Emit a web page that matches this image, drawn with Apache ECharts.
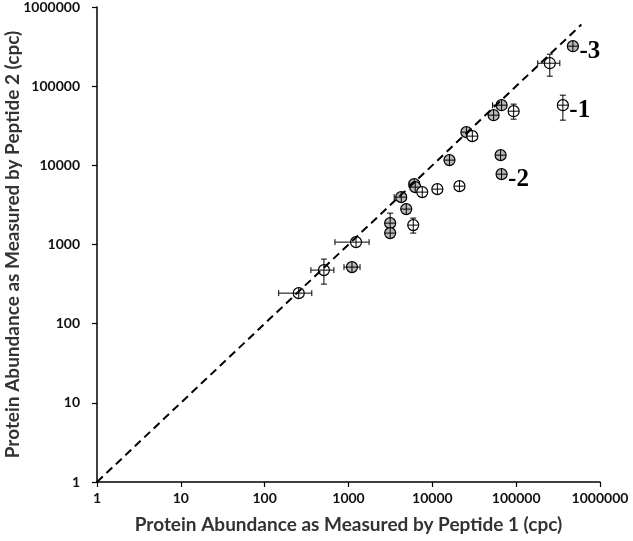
<!DOCTYPE html>
<html>
<head>
<meta charset="utf-8">
<script src="https://cdn.jsdelivr.net/npm/echarts@6/dist/echarts.min.js"></script>
<style>html,body{margin:0;padding:0;background:#fff}#c{width:633px;height:541px}</style>
</head>
<body>
<div id="c"></div>
<script>
// Protein abundance (cpc) measured by peptide 1 (x) and peptide 2 (y)
const peptide1 = [255, 509, 1100, 1230, 3140, 3140, 5920, 4884, 4253, 6085, 6257, 7580, 11480, 21050, 16000, 65200, 67000, 25500, 30000, 53800, 67000, 93300, 360600, 251800, 475000];
const peptide2 = [243, 475, 518, 1072, 1862, 1393, 1758, 2800, 3965, 5795, 5305, 4590, 5005, 5460, 11640, 13450, 7740, 26250, 23380, 43000, 57550, 48300, 57550, 195000, 320000];
const peptide1Low  = [147, 356, 883, 689, null, null, null, null, 3507, 5305, null, null, null, null, null, null, null, null, null, null, 52300, null, null, 180800, null];
const peptide1High = [365, 670, 1373, 1761, null, null, null, null, 4884, 6985, null, null, null, null, null, null, null, null, null, null, 70800, null, null, 331800, null];
const peptide2Low  = [null, 316, null, null, 1480, null, 1393, null, null, null, null, null, null, null, null, null, null, null, null, null, null, 38300, 37200, 133700, null];
const peptide2High = [null, 654, null, null, 2490, null, 2155, null, null, null, null, null, null, null, null, null, null, null, null, null, null, 59300, 76900, 253500, null];
const pointClass = ['open','open','shaded','open','shaded','shaded','open','shaded','shaded','shaded','shaded','open','open','open','shaded','shaded','shaded','shaded','open','shaded','shaded','open','open','open','shaded'];
const annotations = ['','','','','','','','','','','','','','','','','-2','','','','','','-1','','-3'];
const tickLabels = ['1','10','100','1000','10000','100000','1000000'];
const identityLine = [[1, 1], [600000, 600000]];

const chart = echarts.init(document.getElementById('c'), null, {renderer: 'canvas'});
const R = 5.5, CAP = 3;

function renderItem(params, api) {
  const i = params.dataIndex;
  const c = api.coord([peptide1[i], peptide2[i]]);
  const children = [];
  const ls = {stroke: '#000', lineWidth: 1};
  if (peptide1Low[i] != null) {
    const a = api.coord([peptide1Low[i], peptide2[i]]);
    const b = api.coord([peptide1High[i], peptide2[i]]);
    children.push({type: 'line', shape: {x1: a[0], y1: c[1], x2: b[0], y2: c[1]}, style: ls});
    children.push({type: 'line', shape: {x1: a[0], y1: c[1]-CAP, x2: a[0], y2: c[1]+CAP}, style: ls});
    children.push({type: 'line', shape: {x1: b[0], y1: c[1]-CAP, x2: b[0], y2: c[1]+CAP}, style: ls});
  }
  if (peptide2Low[i] != null) {
    const a = api.coord([peptide1[i], peptide2Low[i]]);
    const b = api.coord([peptide1[i], peptide2High[i]]);
    children.push({type: 'line', shape: {x1: c[0], y1: a[1], x2: c[0], y2: b[1]}, style: ls});
    children.push({type: 'line', shape: {x1: c[0]-CAP, y1: a[1], x2: c[0]+CAP, y2: a[1]}, style: ls});
    children.push({type: 'line', shape: {x1: c[0]-CAP, y1: b[1], x2: c[0]+CAP, y2: b[1]}, style: ls});
  }
  children.push({type: 'circle', shape: {cx: c[0], cy: c[1], r: R},
    style: {fill: pointClass[i] === 'shaded' ? '#b8b8b8' : '#fff', stroke: '#000', lineWidth: 1.2}});
  children.push({type: 'line', shape: {x1: c[0]-R, y1: c[1], x2: c[0]+R, y2: c[1]}, style: ls});
  children.push({type: 'line', shape: {x1: c[0], y1: c[1]-R, x2: c[0], y2: c[1]+R}, style: ls});
  if (annotations[i]) {
    children.push({type: 'text', x: c[0] + R + 1, y: c[1] + 5,
      style: {text: annotations[i], fill: '#000', font: 'bold 25px "Liberation Serif"', verticalAlign: 'middle', align: 'left'}});
  }
  return {type: 'group', children};
}

const axisCommon = {
  type: 'log', logBase: 10, min: 1, max: 1000000,
  axisLine: {show: true, lineStyle: {color: '#000', width: 1.5}},
  axisTick: {show: true, inside: false, length: 5, lineStyle: {color: '#000', width: 1.2}},
  splitLine: {show: false},
  minorTick: {show: false},
  nameLocation: 'middle',
  nameMoveOverlap: false,
  nameTextStyle: {fontFamily: 'Lato', fontWeight: 'bold', fontSize: 19, color: '#333'}
};

chart.setOption({
  animation: false,
  backgroundColor: '#fff',
  grid: {left: 97, right: 33, top: 7, bottom: 59, containLabel: false, outerBoundsMode: 'none'},
  xAxis: Object.assign({}, axisCommon, {
    name: 'Protein Abundance as Measured by Peptide 1 (cpc)', nameGap: 33,
    axisLabel: {formatter: (v, i) => tickLabels[i], margin: 9, fontFamily: 'Lato', fontWeight: 'bold', fontSize: 14, color: '#111'}
  }),
  yAxis: Object.assign({}, axisCommon, {
    name: 'Protein Abundance as Measured by Peptide 2 (cpc)', nameGap: 75,
    axisLabel: {formatter: (v, i) => tickLabels[i], margin: 17, fontFamily: 'Lato', fontWeight: 'bold', fontSize: 14, color: '#111'}
  }),
  series: [
    {type: 'line', data: identityLine, symbol: 'none', silent: true,
     lineStyle: {color: '#000', width: 2, type: [8, 5]}},
    {type: 'custom', renderItem: renderItem, data: peptide1.map((x, i) => [x, peptide2[i]]),
     encode: {x: 0, y: 1}, clip: false}
  ]
});
</script>
</body>
</html>
